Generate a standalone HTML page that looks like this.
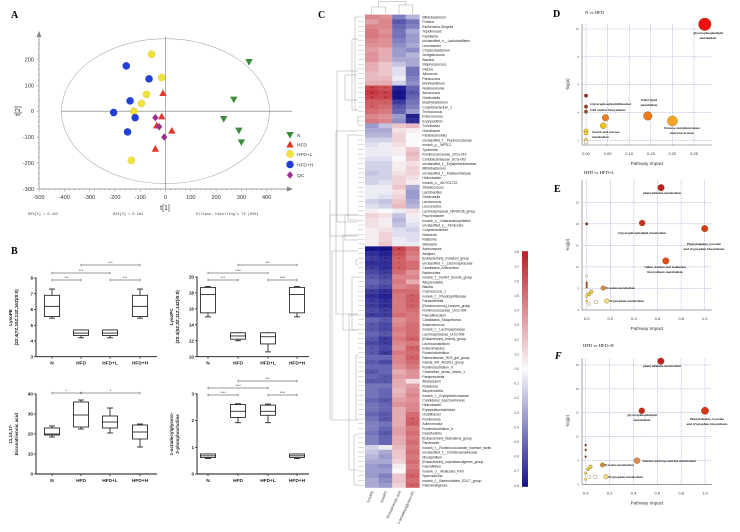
<!DOCTYPE html>
<html><head><meta charset="utf-8">
<style>
html,body{margin:0;padding:0;background:#fff;}
svg{display:block;font-family:"Liberation Sans",sans-serif;}
.pl{font-family:"Liberation Serif",serif;font-weight:bold;}
</style></head>
<body>
<svg id="fig" width="740" height="532" viewBox="0 0 740 532" xmlns="http://www.w3.org/2000/svg">
<rect width="740" height="532" fill="#fff"/>
<text class="pl" x="11" y="18" font-size="10">A</text>
<text class="pl" x="11" y="254" font-size="10">B</text>
<text class="pl" x="318" y="18" font-size="10" font-weight="normal">C</text>
<text class="pl" x="553" y="17" font-size="10">D</text>
<text class="pl" x="554" y="192" font-size="10">E</text>
<text class="pl" x="555" y="359" font-size="10" font-style="italic">F</text>
<g id="gA"></g>
<g id="gB"></g>
<g id="gC"></g>
<g id="gD"></g>
<g id="gE"></g>
<g id="gF"></g>
</svg>
<script>
// ---------- Panel A data ----------
const pcaGroups=['N','HFD','HFD+L','HFD+H','QC'];
const nT1=[330,270,230,290,300];
const nT2=[190,45,-30,-75,-120];
const hfdT1=[-10,-15,-35,25,-40];
const hfdT2=[70,-20,-55,-75,-145];
const hfdlT1=[-55,-15,-75,-95,-125,-135];
const hfdlT2=[220,130,65,30,0,-190];
const hfdhT1=[-155,-65,-140,-205,-120,-150];
const hfdhT2=[175,125,40,-5,-25,-80];
const qcT1=[-40,-25,-5];
const qcT2=[-25,-60,-100];
const pcaXTicks=[-500,-400,-300,-200,-100,0,100,200,300,400];
const pcaYTicks=[200,100,0,-100,-200,-300];

// ---------- Panel B data ----------
const boxCats=['N','HFD','HFD+L','HFD+H'];
const lysoPE=[[5.45,5.55,6.2,6.9,7.3],[4.2,4.35,4.5,4.7,4.7],[4.2,4.35,4.5,4.7,4.7],[5.45,5.55,6.2,6.9,7.3]];
const lysoPC=[[15,15.5,17.8,18.7,18.8],[12,12.2,12.6,13,13],[10.6,11.6,12.5,13,13],[15,15.5,17.8,18.7,18.8]];
const eicosa=[[18.5,19.5,20,23,24],[22.5,23.5,29.5,36,37],[20.5,23,26,29,33],[13.5,17.5,21,24.5,25]];
const octa=[[0.58,0.62,0.68,0.75,0.75],[1.92,2.12,2.35,2.6,2.63],[1.92,2.2,2.35,2.58,2.62],[0.58,0.62,0.68,0.75,0.75]];
const peTicks=[3,4,5,6,7,8];
const pcTicks=[10,12,14,16,18,20];
const eiTicks=[0,10,20,30,40];
const ocTicks=[0,1,2,3];

// ---------- Panel C data ----------
const heatCols=['LysoPE','LysoPC','Eicosatrienoic acid','1-octadecylglycero-PC'];
const heatRows=['Bifidobacterium','Proteus','Escherichia-Shigella','Tepidimonas','Facklamia','unclassified_o__Lactobacillales','Leucobacter','Chryseobacterium','Jeotgalicoccus','Bacillus','Staphylococcus','Dietzia','Aliicoccus','Paracoccus','Brevibacterium','Nesterenkonia','Aerococcus','Globicatella','Brachybacterium','Corynebacterium_1','Trichococcus','Enterococcus','Erysipelothrix','Turicibacter','Odoribacter','Parabacteroides','unclassified_f__Peptococcaceae','norank_p__WPS-2','Tyzzerella','Ruminococcaceae_UCG-014','Coriobacteriaceae_UCG-002','unclassified_f__Erysipelotrichaceae','Bifidobacterium','unclassified_f__Pasteurellaceae','Helicobacter','norank_o__AKYG1722','Streptococcus','Lactobacillus','Globicatella','Lactococcus','Leuconostoc','Lachnospiraceae_NK4A136_group','Psychrobacter','norank_o__Gastranaerophilales','unclassified_p__Firmicutes','Corynebacterium','Neisseria','Ralstonia','Weissella','Actinomyces','Alistipes','[Eubacterium]_nodatum_group','unclassified_f__Lachnospiraceae','Candidatus_Arthromitus','Bacteroides','norank_f__Ru047_termite_group','Alloprevotella','Blautia','Coprococcus_1','norank_f__Rhodospirillaceae','Parasutterella','[Ruminococcus]_torques_group','Ruminococcaceae_UCG-004','Faecalibaculum','Candidatus_Stoquefichus','Anaerotruncus','norank_f__Lachnospiraceae','Lachnospiraceae_UCG-006','[Eubacterium]_brachy_group','Lachnoclostridium','Enterorhabdus','Ruminiclostridium','Rikenellaceae_RC9_gut_group','Family_XIII_AD3011_group','Ruminiclostridium_9','Clostridium_sensu_stricto_1','Paraprevotella','Allobaculum','Roseburia','Alloprevotella','norank_f__Erysipelotrichaceae','Candidatus_Saccharimonas','Helicobacter','Erysipelatoclostridium','Oscillibacter','Romboutsia','Adlercreutzia','Ruminiclostridium_6','Desulfovibrio','[Eubacterium]_fissicatena_group','Parvibacter','norank_f__Ruminococcaceae_incertae_sedis','unclassified_f__Christensenellaceae','Mucispirillum','[Eubacterium]_coprostanoligenes_group','Faecalitalea','norank_o__Mollicutes_RF9','Sporosarcina','norank_f__Bacteroidales_S24-7_group','Paenalcaligenes'];
const heatC1=[.45,.35,.45,.5,.5,.45,.4,.35,.4,.4,.3,.3,.25,.25,.3,.7,.75,.7,.6,.6,.55,.45,.5,
-.35,-.3,-.25,-.15,-.1,-.05,-.05,-.1,-.15,-.15,-.2,-.15,-.15,-.05,-.05,-.05,-.15,-.1,.05,.15,.1,.1,.05,.05,.05,.05,
-.85,-.75,-.7,-.75,-.7,-.65,-.6,-.55,-.6,-.7,-.75,-.7,-.7,-.65,-.7,-.55,-.6,-.6,-.55,-.6,-.65,-.6,-.6,-.55,-.6,-.55,
-.6,-.55,-.6,-.5,-.5,-.5,-.55,-.5,-.5,-.55,-.5,-.45,-.45,-.5,-.45,-.45,-.15,-.2,-.25,-.3,-.35,-.35,-.35,-.3,-.3];
const heatC2=[.4,.45,.45,.4,.45,.4,.4,.3,.3,.3,.2,.2,.2,.25,.3,.65,.7,.7,.6,.55,.5,.4,.45,
-.2,-.3,-.25,-.15,-.05,-.05,-.05,-.1,-.15,-.15,-.15,-.15,-.1,-.05,-.05,-.1,-.2,-.15,0,.1,.05,.05,.1,.15,.15,.2,
-.85,-.8,-.75,-.75,-.75,-.7,-.65,-.6,-.65,-.75,-.8,-.75,-.75,-.7,-.7,-.6,-.65,-.65,-.6,-.7,-.7,-.65,-.7,-.55,-.65,-.55,
-.55,-.6,-.6,-.5,-.55,-.55,-.6,-.55,-.55,-.6,-.6,-.5,-.55,-.6,-.55,-.55,-.05,-.3,-.35,-.3,-.4,-.35,-.45,-.4,-.35];
const heatC3=[-.45,-.6,-.55,-.5,-.5,-.45,-.4,-.35,-.35,-.3,-.2,-.1,-.1,-.05,-.15,-.8,-.85,-.85,-.7,-.6,-.55,-.35,-.4,
.2,.1,.15,.15,.1,.05,.05,0,.05,.05,.1,.15,.15,.2,.1,.15,.2,.25,-.05,-.2,-.25,-.2,-.1,-.1,-.05,-.05,
.7,.65,.6,.6,.6,.55,.45,.5,.45,.55,.5,.5,.5,.5,.55,.4,.45,.5,.45,.5,.45,.4,.5,.45,.45,.4,
.3,.35,.3,.3,.25,.3,.35,.4,.3,.3,.3,.3,.35,.35,.3,.3,.25,.2,.2,.15,.05,0,.2,.2,.15];
const heatC4=[-.25,-.5,-.45,-.3,-.35,-.35,-.3,-.4,-.25,-.3,-.3,-.5,-.5,-.45,-.4,-.55,-.6,-.55,-.5,-.45,-.35,-.8,-.75,
.25,.05,0,0,0,.2,.25,.2,.1,.15,.15,.1,.05,-.3,-.35,-.35,-.3,-.25,.1,.05,-.05,-.1,-.15,-.1,-.1,-.05,
.55,.5,.45,.55,.55,.4,.45,.3,.5,.55,.6,.6,.6,.55,.5,.5,.55,.55,.55,.6,.5,.6,.55,.6,.55,.5,
.4,.4,.1,.35,.4,.45,.4,.45,.45,.55,.6,.6,.5,.55,.5,.55,.5,.55,.5,.55,.5,.55,.6,.55,.6];
const cbTicks=[0.8,0.7,0.6,0.5,0.4,0.3,0.2,0.1,0,-0.1,-0.2,-0.3,-0.4,-0.5,-0.6,-0.7,-0.8];

// ---------- Panel D/E/F data ----------
const dImpact=[0.275,0,0,0,0.045,0.143,0.2,0.04,0,0,0,0];
const dLogP=[10.34,5.21,4.42,4.06,3.62,3.75,3.39,3.05,2.67,2.52,2.0,1.88];
const dSize=[6.3,1.8,1.8,1.8,3.3,4.3,5,3,2.2,2,2,2];
const dColor=['#f01010','#8b3030','#8b3a3a','#9a4a3a','#ee7d22','#f07a1a','#f5a623','#f0c419','#f3d640','#f3d640','#f6e07a','#ffffff'];
const eImpact=[0.63,0.47,1.0,0.67,0,0,0,0,0,0.14,0.04,0.02,0,0.17,0.08,0.02,0];
const eLogP=[28.4,20.2,18.9,11.4,20.0,7.9,6.3,5.8,5.3,5.1,4.25,3.7,3.25,2.1,1.9,1.4,2.1];
const eSize=[3.3,3,3.3,3.3,1.3,1,1,1,1,2.3,1.8,1.8,1.5,2.3,1.8,1.5,1.2];
const eColor=['#c41e1e','#c8321e','#d23c1e','#e0501a','#8b2020','#ffffff','#9a3a2a','#a04a30','#b05a30','#d9884a','#e8d040','#e8d040','#f0e070','#f3e27a','#ffffff','#ffffff','#f0e070'];
const fImpact=[0.63,0.47,1.0,0.43,0.14,0.17,0.04,0.02,0.08,0.03,0,0,0,0,0];
const fLogP=[25.8,15.4,15.4,4.95,4.05,1.6,3.7,3.15,1.55,1.55,8.2,7.2,5.8,2.3,1.05];
const fSize=[3.3,3,3.7,3,2.2,2.2,1.8,1.6,1.8,1.6,1,1,1,1.2,1.2];
const fColor=['#c81e1e','#c8281e','#d8341e','#d98a50','#d08a3a','#f3e27a','#e8d040','#e8d040','#ffffff','#ffffff','#8b2020','#9a2a2a','#a03030','#e8d040','#f0e070'];
const eTicks=[25,20,15,10,5,0];
const dYTicks=[10,8,6,4,2];
const dXTicks=[0,0.05,0.1,0.15,0.2,0.25];
const eXTicks=[0,0.2,0.4,0.6,0.8,1.0];

// ---------- helpers ----------
const NS='http://www.w3.org/2000/svg';
function mk(parent,tag,attrs,text){
  const e=document.createElementNS(NS,tag);
  for(const k in attrs) e.setAttribute(k,attrs[k]);
  if(text!==undefined) e.textContent=text;
  parent.appendChild(e);
  return e;
}

// ================= Panel A =================
(function(){
  const g=document.getElementById('gA');
  const xA=v=>165.5+v*0.253;
  const yA=v=>111.2-v*0.259;
  let el;
  el=mk(g,'ellipse',{cx:xA(0),cy:yA(0),rx:104,ry:72.5,fill:'none',stroke:'#aaa','stroke-width':0.6});
  
  
  mk(g,'line',{x1:xA(0),y1:37,x2:xA(0),y2:189,stroke:'#777','stroke-width':0.6});
  mk(g,'line',{x1:61,y1:yA(0),x2:292,y2:yA(0),stroke:'#777','stroke-width':0.6});
  el=mk(g,'line',{x1:39,y1:34,x2:39,y2:189,stroke:'#888','stroke-width':0.8});
  
  
  el=mk(g,'line',{x1:39,y1:189,x2:290,y2:189,stroke:'#888','stroke-width':0.8});
  
  
  mk(g,'path',{d:'M36.5,37 L39,31 L41.5,37Z',fill:'#888'});
  mk(g,'path',{d:'M287,186.5 L293,189 L287,191.5Z',fill:'#888'});
  for(let v=-500;v<=480;v+=20){mk(g,'line',{x1:xA(v),y1:189,x2:xA(v),y2:v%100===0?191.5:190.3,stroke:'#888','stroke-width':0.5});}
  for(let v=-300;v<=260;v+=20){mk(g,'line',{x1:39,y1:yA(v),x2:v%100===0?36.5:37.7,y2:yA(v),stroke:'#888','stroke-width':0.5});}
  pcaXTicks.forEach(v=>{el=mk(g,'text',{x:xA(v),y:199,'font-size':5.6,'text-anchor':'middle',fill:'#333'},String(v));
    });
  pcaYTicks.forEach(v=>{el=mk(g,'text',{x:34,y:yA(v)+2,'font-size':5.6,'text-anchor':'end',fill:'#333'},String(v));
    });
  el=mk(g,'text',{x:165,y:210,'font-size':7,'text-anchor':'middle',fill:'#333'},'t[1]');
  
  el=mk(g,'text',{x:0,y:0,'font-size':7,'text-anchor':'middle',fill:'#333',transform:'translate(20,111) rotate(-90)'},'t[2]');
  
  el=mk(g,'text',{x:28,y:215,'font-size':3.6,fill:'#444','font-family':'Liberation Mono, monospace'},'R2X[1] = 0.412');
  
  el=mk(g,'text',{x:113,y:215,'font-size':3.6,fill:'#444','font-family':'Liberation Mono, monospace'},'R2X[2] = 0.194');
  
  el=mk(g,'text',{x:196,y:215,'font-size':3.6,fill:'#444','font-family':'Liberation Mono, monospace'},"Ellipse: Hotelling's T2 (95%)");
  

  const r=3.7;
  function marker(type,cx,cy,fill,name){
    let e;
    if(type==='down') e=mk(g,'path',{d:`M${cx-r},${cy-r*0.8} L${cx+r},${cy-r*0.8} L${cx},${cy+r}Z`,fill:fill});
    else if(type==='up') e=mk(g,'path',{d:`M${cx-r},${cy+r*0.8} L${cx+r},${cy+r*0.8} L${cx},${cy-r}Z`,fill:fill});
    else if(type==='circle') e=mk(g,'circle',{cx:cx,cy:cy,r:r,fill:fill,stroke:'rgba(0,0,0,0.15)','stroke-width':0.4});
    else e=mk(g,'path',{d:`M${cx},${cy-r} L${cx+r*0.85},${cy} L${cx},${cy+r} L${cx-r*0.85},${cy}Z`,fill:fill});
    
    
    return e;
  }
  const sets=[[nT1,nT2,'down','#3d8b3d','point-n'],[hfdT1,hfdT2,'up','#e0392b','point-hfd'],[hfdlT1,hfdlT2,'circle','#f2e33a','point-hfd-l'],[hfdhT1,hfdhT2,'circle','#2040d8','point-hfd-h'],[qcT1,qcT2,'diamond','#9b2f8f','point-qc']];
  sets.forEach(s=>s[0].forEach((v,i)=>marker(s[2],xA(v),yA(s[1][i]),s[3],s[4])));
  const ly=[135,144.5,154,164.5,175];
  sets.forEach((s,i)=>{
    marker(s[2],290,ly[i],s[3],'legend-marker');
    const t=mk(g,'text',{x:297,y:ly[i]+1.8,'font-size':4.8,fill:'#333'},pcaGroups[i]);
    
    
  });
})();

// ================= Panel B =================
(function(){
  const g=document.getElementById('gB');
  function boxplot(cfg){
    const {data,ticks,ax,yZero,v0,pxPer,xs,xEnd,labelLines,sig,name}=cfg;
    const gy=v=>yZero-(v-v0)*pxPer;
    const sub=mk(g,'g',{});
    
    
    mk(sub,'line',{x1:ax,y1:gy(ticks[ticks.length-1])-0.5,x2:ax,y2:yZero,stroke:'#111','stroke-width':0.9});
    mk(sub,'line',{x1:ax,y1:yZero,x2:xEnd,y2:yZero,stroke:'#111','stroke-width':0.9});
    ticks.forEach(v=>{
      mk(sub,'line',{x1:ax-2,y1:gy(v),x2:ax,y2:gy(v),stroke:'#111','stroke-width':0.7});
      const t=mk(sub,'text',{x:ax-3,y:gy(v)+1.6,'font-size':4.6,'font-weight':'bold','text-anchor':'end',fill:'#222'},String(v));
      
      
    });
    xs.forEach((x,i)=>{
      mk(sub,'line',{x1:x,y1:yZero,x2:x,y2:yZero+2,stroke:'#111','stroke-width':0.7});
      const t=mk(sub,'text',{x:x,y:yZero+8,'font-size':4.8,'font-weight':'bold','text-anchor':'middle',fill:'#222'},boxCats[i]);
      
      
      const d=data[i], w=7.5;
      mk(sub,'line',{x1:x,y1:gy(d[0]),x2:x,y2:gy(d[1]),stroke:'#111','stroke-width':0.8});
      mk(sub,'line',{x1:x,y1:gy(d[3]),x2:x,y2:gy(d[4]),stroke:'#111','stroke-width':0.8});
      mk(sub,'line',{x1:x-3,y1:gy(d[0]),x2:x+3,y2:gy(d[0]),stroke:'#111','stroke-width':0.8});
      mk(sub,'line',{x1:x-3,y1:gy(d[4]),x2:x+3,y2:gy(d[4]),stroke:'#111','stroke-width':0.8});
      const b=mk(sub,'rect',{x:x-w,y:gy(d[3]),width:2*w,height:gy(d[1])-gy(d[3]),fill:'#fff',stroke:'#111','stroke-width':0.8});
      
      
      mk(sub,'line',{x1:x-w,y1:gy(d[2]),x2:x+w,y2:gy(d[2]),stroke:'#111','stroke-width':0.8});
    });
    sig.forEach(s=>{
      const [i,j,y,lab]=s;
      mk(sub,'line',{x1:xs[i],y1:y,x2:xs[j],y2:y,stroke:'#333','stroke-width':0.5});
      mk(sub,'line',{x1:xs[i],y1:y-1.2,x2:xs[i],y2:y+1.2,stroke:'#333','stroke-width':0.5});
      mk(sub,'line',{x1:xs[j],y1:y-1.2,x2:xs[j],y2:y+1.2,stroke:'#333','stroke-width':0.5});
      const t=mk(sub,'text',{x:(xs[i]+xs[j])/2,y:y-0.8,'font-size':3.6,'text-anchor':'middle',fill:'#333'},lab);
      
      
    });
    const cy=(yZero+gy(ticks[ticks.length-1]))/2;
    labelLines.forEach((ln,k)=>{
      const t=mk(sub,'text',{x:0,y:0,'font-size':4.6,'font-weight':'bold','text-anchor':'middle',fill:'#222',
        transform:`translate(${ax-24+k*6},${cy}) rotate(-90)`},ln);
      
      
    });
  }
  boxplot({data:lysoPE,ticks:peTicks,ax:36,yZero:356.7,v0:3,pxPer:15.74,xs:[52,81,110,140],xEnd:157,
    labelLines:['LysoPE','(22:4(7Z,10Z,13Z,16Z)/0:0)'],name:'box-plot-lysope',
    sig:[[0,1,280,'***'],[2,3,280,'***'],[0,2,273,'***'],[1,3,265,'***']]});
  boxplot({data:lysoPC,ticks:pcTicks,ax:197,yZero:356.7,v0:10,pxPer:7.97,xs:[208,238,268,297],xEnd:309,
    labelLines:['LysoPC','(20:4(5Z,8Z,11Z,14Z)/0:0)'],name:'box-plot-lysopc',
    sig:[[0,1,280,'***'],[2,3,280,'****'],[0,2,273,'****'],[1,3,265,'***']]});
  boxplot({data:eicosa,ticks:eiTicks,ax:36,yZero:474,v0:0,pxPer:2,xs:[52,81,110,140],xEnd:157,
    labelLines:['11,14,17-','Eicosatrienoic acid'],name:'box-plot-eicosatrienoic-acid',
    sig:[[0,1,393,'*'],[1,3,393,'*']]});
  boxplot({data:octa,ticks:ocTicks,ax:197,yZero:474,v0:0,pxPer:26.7,xs:[208,238,268,297],xEnd:309,
    labelLines:['1-octadecylglycero-','3-phosphocholine'],name:'box-plot-octadecylglycerophosphocholine',
    sig:[[0,1,395,'****'],[2,3,395,'****'],[0,2,388,'****'],[1,3,381,'***']]});
})();

// ================= Panel C =================
(function(){
  const g=document.getElementById('gC');
  const top=14.6, rh=4.73, x0=365, cw=13.6;
  function col(v){
    const a=Math.min(1,Math.abs(v)/0.85);
    let c;
    if(v>=0) c=[250+(190-250)*a,250+(30-250)*a,252+(40-252)*a];
    else c=[250+(20-250)*a,250+(20-250)*a,252+(140-252)*a];
    return `rgb(${c.map(Math.round).join(',')})`;
  }
  const cols=[heatC1,heatC2,heatC3,heatC4];
  cols.forEach((arr,j)=>{
    arr.forEach((v,i)=>{
      const r=mk(g,'rect',{x:x0+j*cw,y:top+i*rh,width:cw+0.2,height:rh+0.2,fill:col(v)});
      
      
      if(Math.abs(v)>=0.6){
        mk(g,'text',{x:x0+j*cw+cw/2,y:top+i*rh+rh*0.85,'font-size':3.2,'text-anchor':'middle',fill:'#400'},Math.abs(v)>=0.7?'**':'*');
      }
    });
  });
  heatRows.forEach((n,i)=>{
    const t=mk(g,'text',{x:x0+4*cw+3,y:top+i*rh+rh*0.8,'font-size':3.4,fill:'#222'},n);
    
    
    mk(g,'line',{x1:358,y1:top+i*rh+rh/2,x2:364,y2:top+i*rh+rh/2,stroke:'#999','stroke-width':0.35});
  });
  heatCols.forEach((n,j)=>{
    const t=mk(g,'text',{x:0,y:0,'font-size':3.6,'text-anchor':'end',fill:'#333',
      transform:`translate(${x0+j*cw+cw/2+2},${top+100*rh+4}) rotate(-65)`},n);
    
    
  });
  const dg=mk(g,'g',{stroke:'#999','stroke-width':0.45,fill:'none'});
  
  
  const br=[[355,2,110],[352,24,110],[358,110,116],[345,60,100],[337,56,222],[336,116,314],[345,200,240],[348,120,220],[356,250,260],[352,262,330],[349,300,470],[356,340,420],[354,420,485],[343,220,330],[332,236,420],[330,200,236]];
  br.forEach(b=>{mk(dg,'line',{x1:b[0],y1:b[1]+15,x2:b[0],y2:b[2]});mk(dg,'line',{x1:b[0],y1:b[1]+15,x2:358,y2:b[1]+15});mk(dg,'line',{x1:b[0],y1:b[2],x2:358,y2:b[2]});});
  mk(dg,'line',{x1:330,y1:200,x2:330,y2:420});
  const td=mk(g,'g',{stroke:'#999','stroke-width':0.45,fill:'none'});
  
  
  mk(td,'path',{d:`M${x0+cw/2},14 V7 H${x0+1.5*cw} V14 M${x0+2.5*cw},14 V5 H${x0+3.5*cw} V14 M${x0+cw},7 V1.5 H${x0+3*cw} V5`});
  const defs=mk(g,'defs',{});
  const lg=mk(defs,'linearGradient',{id:'cbg',x1:0,y1:0,x2:0,y2:1});
  mk(lg,'stop',{offset:'0','stop-color':'rgb(190,30,40)'});
  mk(lg,'stop',{offset:'0.5','stop-color':'rgb(250,250,252)'});
  mk(lg,'stop',{offset:'1','stop-color':'rgb(20,20,140)'});
  const cy=v=>369-v*146;
  const cb=mk(g,'rect',{x:522,y:cy(0.8)-1,width:6,height:cy(-0.8)-cy(0.8)+2,fill:'url(#cbg)'});
  
  
  cbTicks.forEach(v=>{
    const t=mk(g,'text',{x:519,y:cy(v)+1,'font-size':3.2,'text-anchor':'end',fill:'#444'},v.toFixed(1));
    
    
  });
})();

// ================= Panels D/E/F =================
function pathway(cfg){
  const g=document.getElementById(cfg.id);
  const X=v=>cfg.x0+v*cfg.xs, Y=v=>cfg.y0-v*cfg.ys;
  let t=mk(g,'text',{x:cfg.tx,y:cfg.ty,'font-size':4.6,'font-family':'Liberation Serif, serif',fill:'#222'},cfg.title);
  
  cfg.xt.forEach(v=>{
    mk(g,'line',{x1:X(v),y1:cfg.gTop,x2:X(v),y2:cfg.gBot,stroke:'#9a9ad0','stroke-width':0.5,'stroke-dasharray':'1.5,1'});
    const l=mk(g,'text',{x:X(v),y:cfg.gBot+10,'font-size':4,'text-anchor':'middle',fill:'#333'},cfg.xfmt(v));
    
  });
  cfg.yt.forEach(v=>{
    mk(g,'line',{x1:cfg.ax,y1:Y(v),x2:cfg.gRight,y2:Y(v),stroke:'#9a9ad0','stroke-width':0.5,'stroke-dasharray':'1.5,1'});
    const l=mk(g,'text',{x:cfg.ax-3,y:Y(v)+1,'font-size':2.8,'text-anchor':'end',fill:'#555'},String(v));
    
  });
  mk(g,'line',{x1:cfg.ax,y1:cfg.gTop,x2:cfg.ax,y2:cfg.gBot,stroke:'#666','stroke-width':0.6});
  mk(g,'line',{x1:cfg.ax,y1:cfg.gBot,x2:cfg.gRight,y2:cfg.gBot,stroke:'#666','stroke-width':0.6});
  t=mk(g,'text',{x:(cfg.ax+cfg.gRight)/2,y:cfg.gBot+20,'font-size':4.6,'text-anchor':'middle',fill:'#333'},'Pathway Impact');
  
  t=mk(g,'text',{x:0,y:0,'font-size':4.2,'text-anchor':'middle',fill:'#333',transform:`translate(${cfg.ax-13},${(cfg.gTop+cfg.gBot)/2}) rotate(-90)`},'-log(p)');
  
  cfg.imp.forEach((v,i)=>{
    const c=mk(g,'circle',{cx:X(v),cy:Y(cfg.lp[i]),r:cfg.sz[i],fill:cfg.col[i],stroke:'#7a5a20','stroke-width':0.35});
    
    
  });
  cfg.labels.forEach(l=>{
    l[2].forEach((s,k)=>{
      const e=mk(g,'text',{x:l[0],y:l[1]+k*5,'font-size':3.4,'font-family':'Liberation Serif, serif','font-weight':'bold','text-anchor':l[3]||'middle',fill:'#222'},s);
      
      
    });
  });
}
pathway({id:'gD',title:'N vs HFD',tx:585,ty:14,x0:586,xs:432,y0:140.3+2*13.91,ys:13.91,ax:582,gTop:24,gBot:145,gRight:712,
  xt:dXTicks,yt:dYTicks,xfmt:v=>v.toFixed(2),imp:dImpact,lp:dLogP,sz:dSize,col:dColor,
  labels:[[708,34,['glycerophospholipid','metabolism']],[590,105,['Glycerophosphatidylinositol'],'start'],[590,111,['GPI-anchor biosynthesis'],'start'],
    [649,101,['Ether lipid','metabolism']],[682,129,['Pentose and glucuronate','interconversions']],[592,133,['Starch and sucrose','metabolism'],'start']]});
pathway({id:'gE',title:'HFD vs HFD+L',tx:584,ty:174,x0:586.7,xs:118,y0:310,ys:4.308,ax:582,gTop:180,gBot:310,gRight:712,
  xt:eXTicks,yt:eTicks,xfmt:v=>v.toFixed(1),imp:eImpact,lp:eLogP,sz:eSize,col:eColor,
  labels:[[662,194,['phenylalanine metabolism']],[642,234,['Glycerophospholipid metabolism']],[704,245,['Phenylalanine, tyrosine','and tryptophan biosynthesis']],
    [665,268,['valine, leucine and isoleucine','biosynthesis metabolism']],[605,289,['Tyrosine metabolism'],'start'],[609,302,['Tryptophan metabolism'],'start']]});
pathway({id:'gF',title:'HFD vs HFD+H',tx:583,ty:347,x0:585.7,xs:119.3,y0:484.3,ys:4.772,ax:582,gTop:358,gBot:484.3,gRight:712,
  xt:eXTicks,yt:eTicks,xfmt:v=>v.toFixed(1),imp:fImpact,lp:fLogP,sz:fSize,col:fColor,
  labels:[[662,367,['phenylalanine metabolism']],[642,416,['glycerophospholipid','metabolism']],[707,420,['Phenylalanine, tyrosine','and tryptophan biosynthesis']],
    [642,462,['Taurine and hypotaurine metabolism'],'start'],[604,466,['Tyrosine metabolism'],'start'],[608,478,['Tryptophan metabolism'],'start']]});
</script>
</body></html>
